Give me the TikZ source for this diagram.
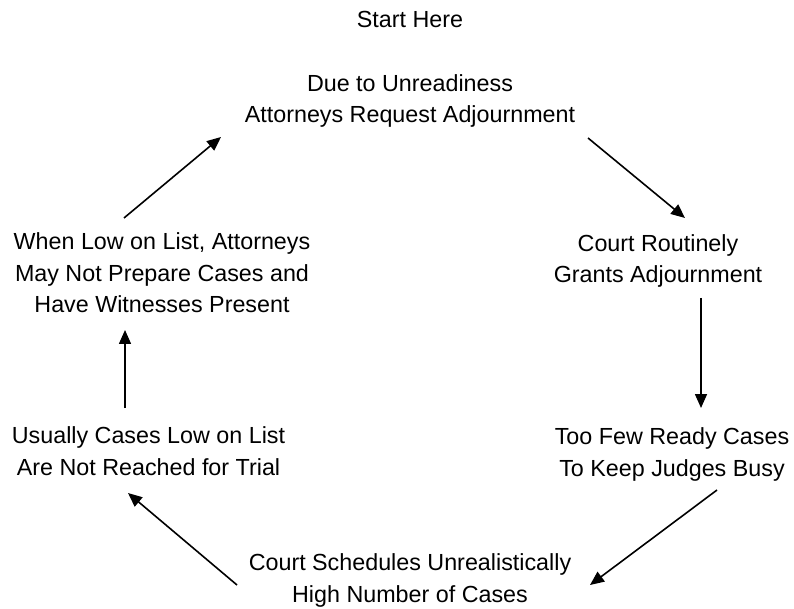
\documentclass[tikz,border=0pt]{standalone}
\usepackage{fontspec}
\setmainfont{Liberation Sans}
\usetikzlibrary{positioning,arrows.meta}

\begin{document}
\begin{tikzpicture}[
    x=1pt, y=1pt,
    stage/.style={align=center, inner sep=0pt, anchor=base, font=\fontsize{23.3}{31.5}\selectfont},
    flow/.style={-{Triangle[length=14pt, width=12pt]}, line width=1.6pt}
]
\useasboundingbox (0,0) rectangle (794,608);

% Stages
\node[stage] (start) at (410,580) {Start Here};
\node[stage] (request) at (410,485) {Due to Unreadiness\\Attorneys Request Adjournment};
\node[stage] (grants) at (658,325) {Court Routinely\\Grants Adjournment};
\node[stage] (toofew) at (672,132) {Too Few Ready Cases\\To Keep Judges Busy};
\node[stage] (schedules) at (410,6) {Court Schedules Unrealistically\\High Number of Cases};
\node[stage] (notreached) at (148.5,133) {Usually Cases Low on List\\Are Not Reached for Trial};
\node[stage] (noprep) at (162,295) {When Low on List, Attorneys\\May Not Prepare Cases and\\Have Witnesses Present};

% Cycle
\draw[flow] ([xshift=-38pt, yshift=95pt]noprep.base) -- ([xshift=-189pt, yshift=-14pt]request.base);
\draw[flow] ([xshift=178pt, yshift=-15pt]request.base) -- ([xshift=27pt, yshift=65pt]grants.base);
\draw[flow] ([xshift=43pt, yshift=-15pt]grants.base) -- ([xshift=29pt, yshift=68pt]toofew.base);
\draw[flow] ([xshift=45pt, yshift=-14pt]toofew.base) -- ([xshift=180pt, yshift=17pt]schedules.base);
\draw[flow] ([xshift=-173pt, yshift=17pt]schedules.base) -- ([xshift=-20.5pt, yshift=-18pt]notreached.base);
\draw[flow] ([xshift=-23.5pt, yshift=67pt]notreached.base) -- ([xshift=-37pt, yshift=-17pt]noprep.base);

\end{tikzpicture}
\end{document}
